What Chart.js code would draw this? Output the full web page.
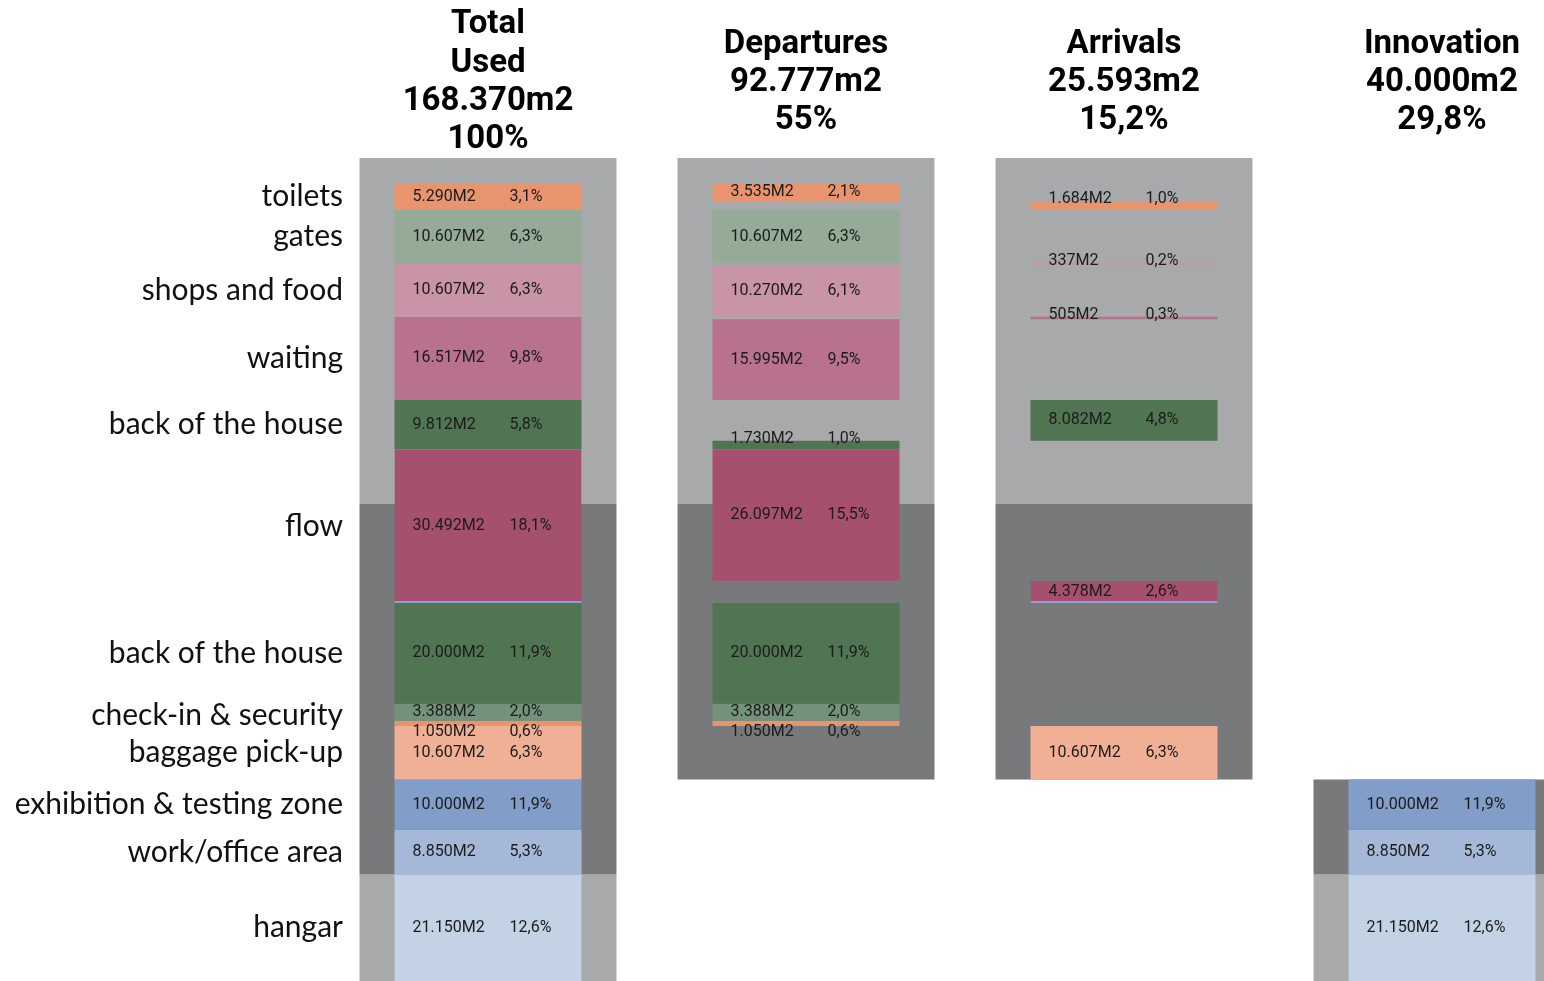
<!DOCTYPE html>
<html>
<head>
<meta charset="utf-8">
<title>Floor area by programme</title>
<script src="https://cdn.jsdelivr.net/npm/chart.js@4.4.1/dist/chart.umd.min.js"></script>
<style>
  html, body { margin: 0; padding: 0; background: #fff; overflow: hidden; }
  #wrap { width: 1610px; height: 981px; }
</style>
</head>
<body>
<div id="wrap"><canvas id="areaChart" width="1610" height="981"></canvas></div>
<script>
var columnTitles = [
    ['Total', 'Used', '168.370m2', '100%'],
    ['Departures', '92.777m2', '55%'],
    ['Arrivals', '25.593m2', '15,2%'],
    ['Innovation', '40.000m2', '29,8%']
];

var segmentNames = ['toilets', 'gates', 'shops and food', 'waiting', 'back of the house', 'flow',
    'back of the house', 'check-in & security', 'check-in & security', 'baggage pick-up',
    'exhibition & testing zone', 'work/office area', 'hangar'];

// m2 per segment, null where the column has none
var totalM2 = [5290, 10607, 10607, 16517, 9812, 30492, 20000, 3388, 1050, 10607, 10000, 8850, 21150];
var departuresM2 = [3535, 10607, 10270, 15995, 1730, 26097, 20000, 3388, 1050, null, null, null, null];
var arrivalsM2 = [1684, null, 337, 505, 8082, 4378, null, null, null, 10607, null, null, null];
var innovationM2 = [null, null, null, null, null, null, null, null, null, null, 10000, 8850, 21150];

var totalPct = ['3,1%', '6,3%', '6,3%', '9,8%', '5,8%', '18,1%', '11,9%', '2,0%', '0,6%', '6,3%', '11,9%', '5,3%', '12,6%'];
var departuresPct = ['2,1%', '6,3%', '6,1%', '9,5%', '1,0%', '15,5%', '11,9%', '2,0%', '0,6%', null, null, null, null];
var arrivalsPct = ['1,0%', null, '0,2%', '0,3%', '4,8%', '2,6%', null, null, null, '6,3%', null, null, null];
var innovationPct = [null, null, null, null, null, null, null, null, null, null, '11,9%', '5,3%', '12,6%'];

var segmentColors = ['#e8956f', '#95ab97', '#c994a8', '#b8728d', '#517452', '#a65070',
    '#517452', '#74927a', '#e8956f', '#f0b096', '#829dc8', '#a6b8d7', '#c4d2e5'];

var LIGHT = '#a8a9ab';
var DARK = '#78797b';

// align: b = bar sits at the bottom of its row (default top)
// place: a = label above the bar, u = label under it (default centred)
var columns = [
    { m2: totalM2, pct: totalPct, align: {}, place: { 8: 'u' } },
    { m2: departuresM2, pct: departuresPct, align: { 2: 'b', 3: 'b', 4: 'b' }, place: { 4: 'a', 8: 'u' } },
    { m2: arrivalsM2, pct: arrivalsPct, align: { 0: 'b', 5: 'b' }, place: { 0: 'a', 2: 'a', 3: 'a' } },
    { m2: innovationM2, pct: innovationPct, align: {}, place: {} }
];

// rows follow the total column
var rowStart = [];
var acc = 0;
totalM2.forEach(function (v) { rowStart.push(acc); acc += v; });
var grandTotal = acc;
var yTop = -5000;
var lowerLevel = 63700;

function rowEnd(i) { return rowStart[i] + totalM2[i]; }

// one name on the left per run of equal segment names
var rowNames = [];
var rowMids = [];
var runFirst = 0;
segmentNames.forEach(function (name, i) {
    if (i === 0 || segmentNames[i - 1] !== name) {
        runFirst = i;
        rowNames.push(name);
    }
    rowMids[rowNames.length - 1] = (rowStart[runFirst] + rowEnd(i)) / 2;
});

var panelSets = [
    [[yTop, lowerLevel], [yTop, lowerLevel], [yTop, lowerLevel], null],
    [[lowerLevel, rowStart[12]], [lowerLevel, rowEnd(9)], [lowerLevel, rowEnd(9)], [rowStart[10], rowStart[12]]],
    [[rowStart[12], grandTotal], null, null, [rowStart[12], grandTotal]]
];
var panelColors = [LIGHT, DARK, LIGHT];

var datasets = [];

segmentNames.forEach(function (name, s) {
    var ds = {
        label: name,
        data: columns.map(function (col) {
            var v = col.m2[s];
            if (v == null) return null;
            var start = col.align[s] === 'b' ? rowEnd(s) - v : rowStart[s];
            return [start, start + v];
        }),
        backgroundColor: segmentColors[s],
        grouped: false,
        categoryPercentage: 1,
        barPercentage: 0.588,
        borderSkipped: false,
        order: 1
    };
    if (name === 'flow') {
        // thin blue edge under the flow block (not in departures)
        ds.borderColor = '#8fa0d2';
        ds.borderWidth = function (ctx) { return ctx.dataIndex === 1 ? 0 : { bottom: 2 }; };
    }
    datasets.push(ds);
});

panelSets.forEach(function (d, i) {
    datasets.push({
        label: 'level ' + i,
        data: d,
        backgroundColor: panelColors[i],
        grouped: false,
        categoryPercentage: 1,
        barPercentage: 0.808,
        order: 5
    });
});

function formatM2(v) {
    return v.toLocaleString('de-DE') + 'M2';
}

var valueLabels = {
    id: 'valueLabels',
    afterDatasetsDraw: function (chart) {
        var ctx = chart.ctx;
        ctx.save();
        ctx.font = '16px Roboto';
        ctx.fillStyle = '#1b1b1b';
        ctx.textAlign = 'left';
        segmentNames.forEach(function (name, s) {
            var meta = chart.getDatasetMeta(s);
            columns.forEach(function (col, c) {
                var v = col.m2[s];
                if (v == null) return;
                var bar = meta.data[c];
                var top = Math.min(bar.y, bar.base);
                var bottom = Math.max(bar.y, bar.base);
                var left = bar.x - bar.width / 2;
                var y;
                var place = col.place[s];
                if (place === 'a') {
                    ctx.textBaseline = 'alphabetic';
                    y = top + 2;
                } else if (place === 'u') {
                    ctx.textBaseline = 'middle';
                    y = bottom + 6;
                } else {
                    ctx.textBaseline = 'middle';
                    y = (top + bottom) / 2;
                }
                ctx.fillText(formatM2(v), left + 18, y);
                ctx.fillText(col.pct[s], left + 115, y);
            });
        });
        ctx.restore();
    }
};

new Chart(document.getElementById('areaChart'), {
    type: 'bar',
    data: {
        labels: columnTitles,
        datasets: datasets
    },
    options: {
        responsive: false,
        animation: false,
        devicePixelRatio: 1,
        layout: { padding: { right: 9 } },
        plugins: {
            legend: { display: false },
            tooltip: { enabled: false }
        },
        scales: {
            x: {
                position: 'top',
                grid: { display: false },
                border: { display: false },
                afterFit: function (scale) { scale.height = 158; },
                ticks: {
                    autoSkip: false,
                    maxRotation: 0,
                    padding: 10,
                    crossAlign: 'center',
                    color: '#000',
                    font: { family: 'Roboto', weight: 'bold', size: 33, lineHeight: 1.16 }
                }
            },
            y: {
                type: 'linear',
                reverse: true,
                min: yTop,
                max: grandTotal,
                grid: { display: false },
                border: { display: false },
                afterBuildTicks: function (scale) {
                    scale.ticks = rowMids.map(function (v) { return { value: v }; });
                },
                afterFit: function (scale) {
                    scale.width = 329;
                    scale.paddingTop = 0;
                    scale.paddingBottom = 0;
                    // names reach a little past the axis box, so let them draw unclipped
                    scale._computeLabelArea = function () { return undefined; };
                },
                ticks: {
                    autoSkip: false,
                    padding: -22,
                    color: '#111',
                    font: { family: 'Lato', size: 30 },
                    callback: function (value, index) { return rowNames[index]; }
                }
            }
        }
    },
    plugins: [valueLabels]
});
</script>
</body>
</html>
